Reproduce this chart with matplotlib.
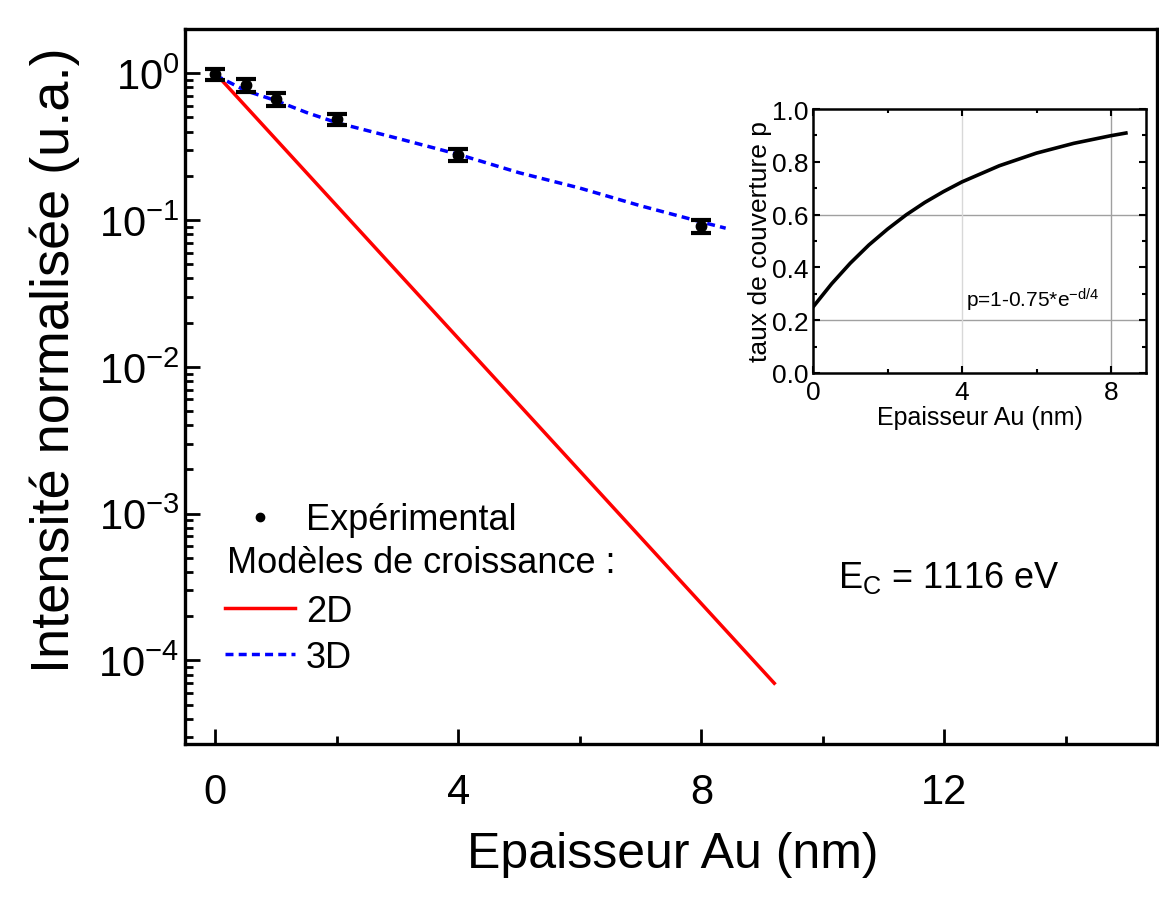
import matplotlib
matplotlib.use('Agg')
import matplotlib.pyplot as plt
from matplotlib.ticker import MultipleLocator, LogLocator, NullFormatter, FuncFormatter
from matplotlib.lines import Line2D
import numpy as np

plt.rcParams['font.family'] = ['Liberation Sans', 'DejaVu Sans']
plt.rcParams['mathtext.fontset'] = 'custom'
plt.rcParams['mathtext.rm'] = 'Liberation Sans'
plt.rcParams['mathtext.it'] = 'Liberation Sans:italic'
plt.rcParams['mathtext.default'] = 'regular'

# experimental points
d_exp = [0, 0.5, 1, 2, 4, 8]
I_exp = [0.985, 0.83, 0.665, 0.486, 0.277, 0.091]
I_err = [0.09, 0.08, 0.065, 0.045, 0.026, 0.009]

# 2D growth model (straight on log scale)
d_2d = [0, 9.2]
I_2d = [1.0, 7.0e-5]

# 3D growth model
d_3d = [0, 0.5, 1, 1.5, 2, 3, 4, 5, 6, 7, 8, 8.4]
I_3d = [0.97, 0.76, 0.65, 0.54, 0.46, 0.36, 0.28, 0.21, 0.165, 0.125, 0.097, 0.088]

# inset: coverage p vs thickness
d_p = [0, 0.5, 1, 1.5, 2, 2.5, 3, 3.5, 4, 5, 6, 7, 8, 8.4]
p_cov = [0.25, 0.338, 0.416, 0.485, 0.545, 0.599, 0.646, 0.687, 0.724, 0.785, 0.833, 0.870, 0.899, 0.909]

fig = plt.figure(figsize=(11.59, 9.04), dpi=100)
ax = fig.add_axes([0.1596, 0.1759, 0.8387, 0.7909])

ax.plot(d_2d, I_2d, color='red', lw=2.5, zorder=3)
ax.plot(d_3d, I_3d, color='blue', lw=2.5, ls=(0, (2.3, 1.5)), zorder=3)
ax.errorbar(d_exp, I_exp, yerr=I_err, fmt='o', color='black', ms=7.5,
            capsize=7, capthick=3, elinewidth=2.5, zorder=4)

ax.set_yscale('log')
ax.set_xlim(-0.5, 15.5)
ax.set_ylim(2.7e-5, 2)
ax.xaxis.set_major_locator(MultipleLocator(4))
ax.xaxis.set_minor_locator(MultipleLocator(2))
ax.yaxis.set_major_locator(LogLocator(base=10, numticks=10))
ax.yaxis.set_minor_locator(LogLocator(base=10, subs=range(2, 10), numticks=20))
ax.yaxis.set_minor_formatter(NullFormatter())
ax.yaxis.set_major_formatter(FuncFormatter(lambda v, pos: r'$10^{%d}$' % int(round(np.log10(v)))))
ax.tick_params(which='major', direction='in', length=11, width=2, labelsize=30)
ax.tick_params(which='minor', direction='in', length=6, width=2)
ax.tick_params(axis='x', which='both', pad=20)
ax.tick_params(axis='y', which='both', pad=4)
for s in ax.spines.values():
    s.set_linewidth(2.4)

ax.set_xlabel('Epaisseur Au (nm)', fontsize=36, va='center')
ax.xaxis.set_label_coords(0.502, -0.154)
ax.set_ylabel('Intensité normalisée (u.a.)', fontsize=39, va='center')
ax.yaxis.set_label_coords(-0.134, 0.538)

h_exp = Line2D([], [], marker='o', ls='none', color='black', ms=6)
h_blank = Line2D([], [], ls='none')
h_2d = Line2D([], [], color='red', lw=2.5)
h_3d = Line2D([], [], color='blue', lw=2.5, ls=(0, (2.3, 1.5)))
ax.legend([h_exp, h_blank, h_2d, h_3d], ['Expérimental', ' ', '2D', '3D'],
          loc='upper left', bbox_to_anchor=(0.041, 0.338), frameon=False,
          fontsize=26, handlelength=1.95, handletextpad=0.3, labelspacing=0.3,
          borderpad=0, borderaxespad=0)
ax.text(0.043, 0.254, 'Modèles de croissance :', transform=ax.transAxes,
        fontsize=26, va='center')
ax.text(0.672, 0.234, r'E$_\mathrm{C}$ = 1116 eV', transform=ax.transAxes,
        fontsize=26, va='center')

# inset
axi = fig.add_axes([0.7015, 0.5863, 0.2873, 0.292])
for v in [0.2, 0.6]:
    axi.axhline(v, color='#a0a0a0', lw=1, zorder=1)
axi.axvline(4, color='#d8d8d8', lw=1, zorder=1)
axi.axvline(8, color='#a0a0a0', lw=1, zorder=1)
axi.plot(d_p, p_cov, color='black', lw=2.6, zorder=3)
axi.set_xlim(0, 8.94)
axi.set_ylim(0, 1.0)
axi.xaxis.set_major_locator(MultipleLocator(4))
axi.xaxis.set_minor_locator(MultipleLocator(2))
axi.yaxis.set_major_locator(MultipleLocator(0.2))
axi.yaxis.set_minor_locator(MultipleLocator(0.1))
axi.yaxis.set_major_formatter(plt.FormatStrFormatter('%.1f'))
axi.tick_params(which='both', direction='in', top=True, right=True, width=1.5, labelsize=19)
axi.tick_params(axis='x', pad=5)
axi.tick_params(axis='y', pad=3)
axi.tick_params(which='major', length=5)
axi.tick_params(which='minor', length=3)
for s in axi.spines.values():
    s.set_linewidth(1.8)
axi.set_xlabel('Epaisseur Au (nm)', fontsize=18, labelpad=1)
axi.set_ylabel('taux de couverture p', fontsize=19, labelpad=0)
axi.text(4.1, 0.28, r'p=1-0.75*e$^{-d/4}$', fontsize=15, va='center')

fig.savefig('out.png', dpi=100, facecolor='white')
